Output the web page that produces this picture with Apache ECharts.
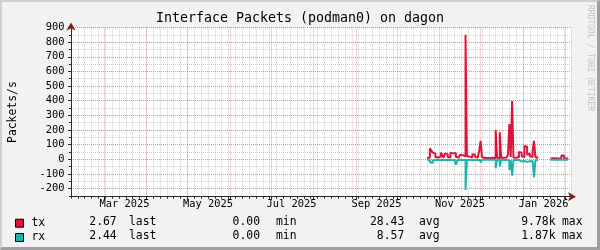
<!DOCTYPE html>
<html><head><meta charset="utf-8">
<script src="https://cdn.jsdelivr.net/npm/echarts@6/dist/echarts.min.js"></script>
<style>html,body{margin:0;padding:0;background:#F2F2F2}#c{width:600px;height:250px}</style>
</head><body><div id="c"></div>
<script>
const chartTitle = 'Interface Packets (podman0) on dagon';
const yAxisName = 'Packets/s';
const seriesNames = ['tx', 'rx'];
const seriesColors = ['#DC143C', '#20B2AA'];

// daily packet rates (packets/s)
const seg1Start = '2025-10-23';
const txSeg1 = [8,12,75,60,45,40,15,12,20,18,
  45,30,10,40,35,15,12,45,40,38,
  42,15,12,25,30,28,22,20,850,20,
  18,15,12,35,30,15,12,20,60,125,
  15,8,7,8,6,8,7,10,8,6,
  200,10,8,184,8,10,8,12,10,30,
  241,15,398,12,10,8,15,50,45,20,
  15,90,85,30,40,20,15,60,125,15,
  8];
const rxSeg1 = [4,5,20,27,8,6,4,5,4,6,
  8,5,4,6,5,4,5,6,8,6,
  10,38,6,4,5,6,5,4,210,6,
  5,4,5,6,5,4,5,6,8,22,
  6,4,3,4,3,4,3,4,3,4,
  62,5,4,50,4,5,4,5,4,8,
  73,6,112,6,5,4,6,12,15,10,
  12,16,18,12,14,10,12,15,125,8,
  4];
const seg2Start = '2026-01-21';
const txSeg2 = [5,6,5,7,6,5,6,7,25,25,6,5,7,5];
const rxSeg2 = [3,3,2,3,3,2,3,3,4,3,3,2,3,3];

// axes
const rangeStart = '2025-02-05';
const rangeEnd = '2026-02-05';
const minorGridDays = 5;
const monthStarts = ['2025-03-01','2025-04-01','2025-05-01','2025-06-01','2025-07-01','2025-08-01',
  '2025-09-01','2025-10-01','2025-11-01','2025-12-01','2026-01-01','2026-02-01'];
const monthLabelDates = ['2025-03-16','2025-05-16','2025-07-16','2025-09-16','2025-11-16','2026-01-16'];
const monthNames = ['Jan','Feb','Mar','Apr','May','Jun','Jul','Aug','Sep','Oct','Nov','Dec'];
const yMin = -256, yMax = 900;
const yMajorTicks = [-200,-100,0,100,200,300,400,500,600,700,800,900];
const yMinorTicks = [-250,-200,-150,-100,-50,0,50,100,150,200,250,300,350,400,450,500,550,600,650,700,750,800,850,900];

// legend statistics
const statLast = ['2.67', '2.44'];
const statMin = ['0.00', '0.00'];
const statAvg = ['28.43', '8.57'];
const statMax = ['9.78k', '1.87k'];
const statWords = ['last', 'min', 'avg', 'max'];

const DAY = 86400000;
const ts = s => Date.parse(s + 'T00:00:00Z');
const T0 = ts(rangeStart), T1 = ts(rangeEnd);
const minorX = [];
for (let t = T0; t <= T1; t += minorGridDays * DAY) minorX.push(t);
const majorX = monthStarts.map(ts);
const labelX = monthLabelDates.map(ts);

function build(segs) {
  const out = [];
  segs.forEach(([start, vals], k) => {
    const s = ts(start);
    vals.forEach((v, i) => out.push([s + i * DAY, v]));
    if (k < segs.length - 1) out.push([s + vals.length * DAY, null]);
  });
  return out;
}
const txData = build([[seg1Start, txSeg1], [seg2Start, txSeg2]]);
const rxData = build([[seg1Start, rxSeg1.map(v => -v)], [seg2Start, rxSeg2.map(v => -v)]]);

const MONO = 'DejaVu Sans Mono';
const minorLine = {color: 'rgba(143,143,143,0.42)', type: 'dotted', width: 1};
const majorLine = {color: 'rgba(222,79,79,0.5)', type: 'dotted', width: 1};
const axisCol = '#2a2a2a';
const arrowCol = '#801F1F';

// legend stats graphic texts
const rowY = [221.7, 236];
const numRight = [116.7, 260, 404.3, 555.5];
const wordLeft = [129, 276, 419, 562];
const statGraphics = [];
[statLast, statMin, statAvg, statMax].forEach((arr, c) => {
  arr.forEach((txt, r) => {
    statGraphics.push({type: 'text', x: numRight[c], y: rowY[r], silent: true,
      style: {text: txt, fill: '#000', font: '11.4px "' + MONO + '"', align: 'right', verticalAlign: 'middle'}});
    statGraphics.push({type: 'text', x: wordLeft[c], y: rowY[r], silent: true,
      style: {text: statWords[c], fill: '#000', font: '11.4px "' + MONO + '"', align: 'left', verticalAlign: 'middle'}});
  });
});

const legends = seriesNames.map((n, r) => ({
  left: 15, top: rowY[r] - 4, itemWidth: 8, itemHeight: 8, padding: 0,
  icon: 'rect', selectedMode: false, data: [n],
  itemStyle: {borderColor: '#000', borderWidth: 1},
  textStyle: {fontFamily: MONO, fontSize: 11.4, color: '#000', lineHeight: 8, padding: [0, 0, 0, 3]}
}));

const chart = echarts.init(document.getElementById('c'), null, {renderer: 'canvas'});
chart.setOption({
  animation: false,
  backgroundColor: '#F2F2F2',
  title: {text: chartTitle, left: 'center', top: 12, padding: 0,
    textStyle: {fontFamily: MONO, fontSize: 13.3, fontWeight: 'normal', color: '#000'}},
  legend: legends,
  grid: {left: 67, top: 27.5, width: 504, height: 169.2, show: true, backgroundColor: '#FFFFFF', borderWidth: 0, containLabel: false},
  xAxis: [
    {type: 'value', min: T0, max: T1, position: 'bottom', scale: true,
      axisLine: {show: true, onZero: false, symbol: ['none', 'arrow'], symbolSize: [7, 8], symbolOffset: [0, 5],
        lineStyle: {color: arrowCol, width: 1}},
      axisTick: {show: true, customValues: minorX, length: 2, lineStyle: {color: axisCol}},
      axisLabel: {show: false},
      splitLine: {show: true, lineStyle: minorLine}},
    {type: 'value', min: T0, max: T1, position: 'bottom', scale: true,
      axisLine: {show: true, onZero: false, lineStyle: {color: axisCol, width: 1}},
      axisTick: {show: true, customValues: majorX, length: 3, lineStyle: {color: axisCol}},
      axisLabel: {customValues: labelX, margin: 3, fontFamily: MONO, fontSize: 10.4, color: '#000',
        formatter: v => { const d = new Date(v); return monthNames[d.getUTCMonth()] + ' ' + d.getUTCFullYear(); }},
      splitLine: {show: true, lineStyle: majorLine}}
  ],
  yAxis: [
    {type: 'value', min: yMin, max: yMax, position: 'left',
      axisLine: {show: true, onZero: false, symbol: ['none', 'arrow'], symbolSize: [7, 8], symbolOffset: [0, 5],
        lineStyle: {color: arrowCol, width: 1}},
      axisTick: {show: true, customValues: yMinorTicks, length: 2, lineStyle: {color: axisCol}},
      axisLabel: {show: false},
      splitLine: {show: true, lineStyle: minorLine}},
    {type: 'value', min: yMin, max: yMax, position: 'left',
      name: yAxisName, nameLocation: 'middle', nameRotate: 90, nameGap: 52,
      nameTextStyle: {fontFamily: MONO, fontSize: 11.4, color: '#000'},
      axisLine: {show: true, onZero: false, lineStyle: {color: axisCol, width: 1}},
      axisTick: {show: true, customValues: yMajorTicks, length: 3, lineStyle: {color: axisCol}},
      axisLabel: {customValues: yMajorTicks, margin: 6.5, fontFamily: MONO, fontSize: 10.4, color: '#000'},
      splitLine: {show: true, lineStyle: majorLine}}
  ],
  series: [
    {name: seriesNames[0], type: 'line', xAxisIndex: 1, yAxisIndex: 1, data: txData, step: 'end',
      showSymbol: false, connectNulls: false, color: seriesColors[0],
      lineStyle: {color: seriesColors[0], width: 2}, z: 3},
    {name: seriesNames[1], type: 'line', xAxisIndex: 1, yAxisIndex: 1, data: rxData, step: 'end',
      showSymbol: false, connectNulls: false, color: seriesColors[1],
      lineStyle: {color: seriesColors[1], width: 2}, z: 4}
  ],
  graphic: [
    {type: 'polygon', silent: true, shape: {points: [[0,0],[600,0],[598,2],[2,2],[2,248],[0,250]]}, style: {fill: '#CFCFCF'}},
    {type: 'polygon', silent: true, shape: {points: [[600,0],[600,250],[0,250],[2,247],[597,247],[597,2]]}, style: {fill: '#9E9E9E'}},
    {type: 'text', x: 590, y: 5, rotation: -Math.PI / 2, silent: true,
      style: {text: 'RRDTOOL / TOBI OETIKER', fill: '#C4C4C4', font: '8px "' + MONO + '"', align: 'left', verticalAlign: 'middle'}}
  ].concat(statGraphics)
});
</script>
</body></html>
